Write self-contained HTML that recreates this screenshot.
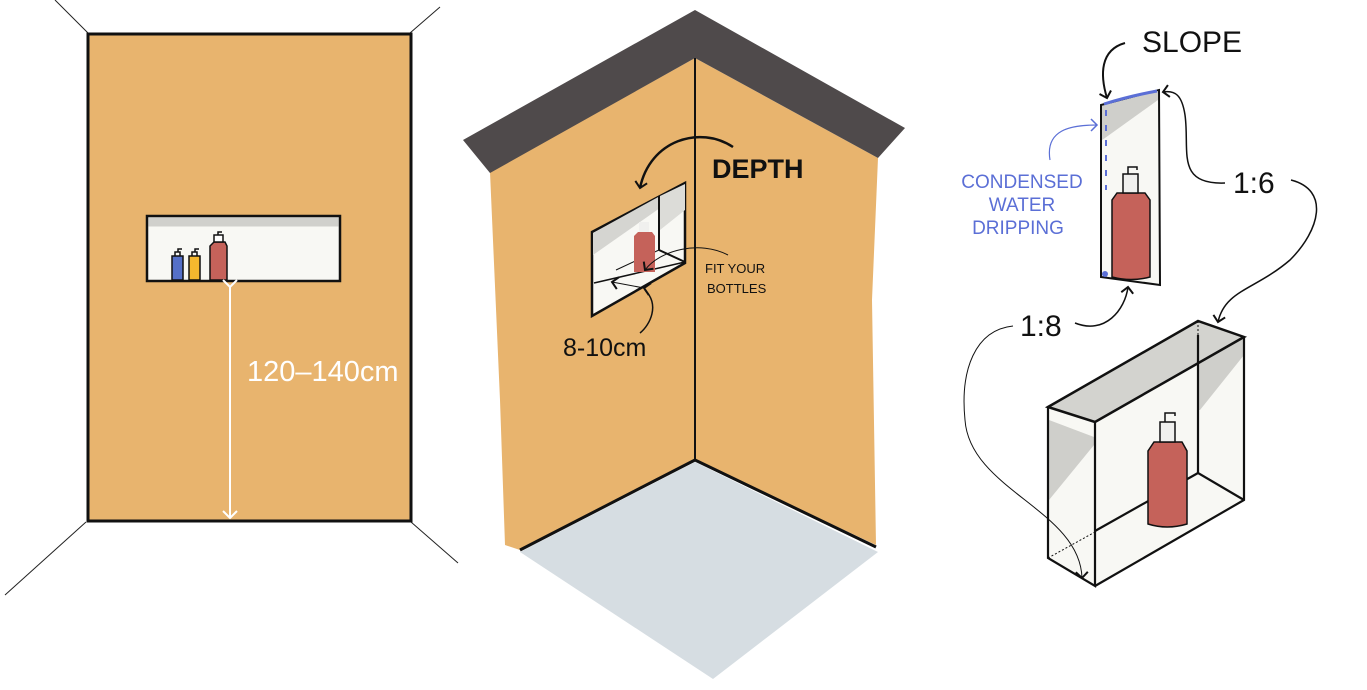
<!DOCTYPE html>
<html><head><meta charset="utf-8"><style>
html,body{margin:0;padding:0;background:#fff;}
svg{display:block;}
text{font-family:"Liberation Sans",sans-serif;}
</style></head><body>
<svg width="1367" height="690" viewBox="0 0 1367 690" xmlns="http://www.w3.org/2000/svg">
<defs>
<marker id="ah" markerWidth="14" markerHeight="14" refX="7" refY="7" orient="auto" markerUnits="userSpaceOnUse">
<path d="M1,1 L7,7 L1,13" fill="none" stroke="#111" stroke-width="2"/></marker>
<marker id="ahb" markerWidth="14" markerHeight="14" refX="7" refY="7" orient="auto" markerUnits="userSpaceOnUse">
<path d="M1,1 L7,7 L1,13" fill="none" stroke="#5b6fd6" stroke-width="1.5"/></marker>
<marker id="ahw" markerWidth="16" markerHeight="16" refX="8" refY="8" orient="auto" markerUnits="userSpaceOnUse">
<path d="M1,1 L8,8 L1,15" fill="none" stroke="#fff" stroke-width="2"/></marker>
</defs>

<!-- LEFT PANEL -->
<g stroke="#222" stroke-width="1">
<line x1="55" y1="0" x2="88" y2="33"/>
<line x1="440" y1="7" x2="410" y2="33"/>
<line x1="86" y1="522" x2="5" y2="595"/>
<line x1="411" y1="522" x2="458" y2="563"/>
</g>
<rect x="88" y="34" width="323" height="487" fill="#e8b46e" stroke="#111" stroke-width="3"/>
<rect x="147" y="216" width="193" height="65" fill="#f8f8f4" stroke="#111" stroke-width="2.5"/>
<rect x="148.5" y="217.5" width="190" height="9" fill="#d0d0cc"/>
<g stroke="#111" stroke-width="1.5">
<rect x="172" y="256" width="11" height="24" fill="#5570c8"/>
<rect x="189" y="256" width="11" height="24" fill="#f5b82e"/>
<path d="M210 280 L210 246 L214 242 L225 242 L227 246 L227 280 Z" fill="#c5625a"/>
<rect x="214" y="235" width="9" height="7" fill="#fff"/>
<path d="M175 256 v-4 h5 v4 M178 252 v-3 h4 M192 256 v-4 h5 v4 M195 252 v-3 h4 M218 235 v-3 h4" fill="none"/>
</g>
<line x1="230" y1="287" x2="230" y2="518" stroke="#fff" stroke-width="2" marker-start="url(#ahw)" marker-end="url(#ahw)"/>
<text x="247" y="381" font-size="29" fill="#fff">120–140cm</text>

<!-- MIDDLE PANEL -->
<polygon points="520,552 695,462 878,552 713,679" fill="#d6dde2"/>
<polygon points="490,172 695,58 695,460 520,550 505,545 500,400" fill="#e8b46e"/>
<polygon points="695,58 878,158 872,300 876,545 695,460" fill="#e8b46e"/>
<polygon points="463,140 695,10 905,128 878,158 695,58 490,173" fill="#4f4a4b"/>
<line x1="695" y1="58" x2="695" y2="460" stroke="#111" stroke-width="2"/>
<line x1="520" y1="550" x2="695" y2="460" stroke="#111" stroke-width="3"/>
<line x1="695" y1="460" x2="876" y2="547" stroke="#111" stroke-width="3"/>
<!-- niche -->
<polygon points="592,232 685,183 685,263 592,316" fill="#f8f8f4" stroke="#111" stroke-width="2.5"/>
<polygon points="593,233 660,196 660,208 593,255" fill="#d5d5d1"/>
<polygon points="660,196 685,184 685,210 660,230" fill="#dcdcd8"/>
<line x1="659" y1="196" x2="659" y2="250" stroke="#111" stroke-width="2"/>
<line x1="659" y1="250" x2="685" y2="262" stroke="#111" stroke-width="2"/>
<line x1="594" y1="283" x2="685" y2="262" stroke="#111" stroke-width="1.5"/>
<line x1="616" y1="270" x2="659" y2="250" stroke="#111" stroke-width="1"/>
<path d="M634 272 L634 236 L638 232 L652 232 L655 236 L655 272 Z" fill="#c5625a"/>
<rect x="639" y="222" width="10" height="10" fill="#f0f0ee"/>
<path d="M733 147 C700 125 650 140 640 188" fill="none" stroke="#111" stroke-width="2.5" marker-end="url(#ah)"/>
<text x="712" y="178" font-size="27" font-weight="bold" fill="#111">DEPTH</text>
<path d="M728 255 C700 240 660 250 645 270" fill="none" stroke="#111" stroke-width="1" marker-end="url(#ah)"/>
<text x="705" y="273" font-size="13" fill="#111">FIT YOUR</text>
<text x="707" y="293" font-size="13" fill="#111">BOTTLES</text>
<path d="M644 288 L612 282" stroke="#111" stroke-width="1" marker-end="url(#ah)" marker-start="url(#ah)"/>
<path d="M645 290 C660 305 650 325 640 333" fill="none" stroke="#111" stroke-width="1.5"/>
<text x="563" y="356" font-size="25" fill="#111">8-10cm</text>

<!-- RIGHT PANEL -->
<text x="1142" y="52" font-size="30" fill="#111">SLOPE</text>
<path d="M1125 43 C1100 50 1100 75 1107 98" fill="none" stroke="#111" stroke-width="2" marker-end="url(#ah)"/>
<polygon points="1101,105 1159,90 1160,285 1101,277" fill="#f8f8f4" stroke="#111" stroke-width="2"/>
<polygon points="1102,106 1158,91 1158,100 1105,138 1102,140" fill="#cfcfcb"/>
<path d="M1104 104 Q1130 96 1157 91" stroke="#5b6fd6" stroke-width="3" fill="none"/>
<path d="M1106 110 v80" stroke="#5b6fd6" stroke-width="2" stroke-dasharray="6 9" fill="none"/>
<circle cx="1105" cy="274" r="3" fill="#5b6fd6"/>
<path d="M1112 277 L1112 200 L1117 193 L1145 193 L1150 200 L1150 277 Q1131 282 1112 277 Z" fill="#c5625a" stroke="#111" stroke-width="1.5"/>
<rect x="1123" y="174" width="15" height="19" fill="#f0f0ee" stroke="#111" stroke-width="1.5"/>
<path d="M1128 174 v-7 h9 v3" fill="none" stroke="#111" stroke-width="1.5"/>
<path d="M1050 160 C1045 130 1070 125 1097 125" fill="none" stroke="#5b6fd6" stroke-width="1.2" marker-end="url(#ahb)"/>
<text x="1022" y="188" font-size="19" fill="#5b6fd6" text-anchor="middle">CONDENSED</text>
<text x="1022" y="211" font-size="19" fill="#5b6fd6" text-anchor="middle">WATER</text>
<text x="1018" y="234" font-size="19" fill="#5b6fd6" text-anchor="middle">DRIPPING</text>
<text x="1233" y="193" font-size="30" fill="#111">1:6</text>
<path d="M1225 183 C1175 185 1190 150 1185 115 C1182 95 1175 90 1163 92" fill="none" stroke="#111" stroke-width="1.5" marker-end="url(#ah)"/>
<text x="1020" y="336" font-size="30" fill="#111">1:8</text>
<path d="M1075 323 C1105 335 1125 310 1128 287" fill="none" stroke="#111" stroke-width="1.5" marker-end="url(#ah)"/>
<!-- box -->
<polygon points="1048,407 1095,422 1095,586 1048,558" fill="#f8f8f4"/>
<polygon points="1049,420 1094,437 1094,445 1049,500" fill="#cfcfcb"/>
<polygon points="1095,422 1244,337 1244,500 1095,586" fill="#f8f8f4"/>
<polygon points="1198,321 1244,337 1244,355 1200,410 1198,410" fill="#cfcfcb"/>
<polygon points="1198,322 1244,337 1198,362" fill="#b3b3b0"/>
<polygon points="1048,407 1198,321 1244,337 1095,422" fill="#d3d3cf" stroke="#111" stroke-width="2.5"/>
<g stroke="#111" stroke-width="2.2" fill="none">
<path d="M1048 407 V558 L1095 586 V422"/>
<path d="M1244 337 V500 L1095 586"/>
<path d="M1198 335 V473 L1244 500"/>
<path d="M1095 531 L1198 473"/>
</g>
<path d="M1048 558 L1095 532" stroke="#111" stroke-width="1" stroke-dasharray="2 2"/>
<path d="M1198 321 V335" stroke="#111" stroke-width="1" stroke-dasharray="2 2"/>
<path d="M1148 524 L1148 451 L1154 442 L1182 442 L1187 451 L1187 524 Q1167 530 1148 524 Z" fill="#c5625a" stroke="#111" stroke-width="1.5"/>
<rect x="1160" y="422" width="15" height="20" fill="#f0f0ee" stroke="#111" stroke-width="1.5"/>
<path d="M1165 422 v-9 h10 v3" fill="none" stroke="#111" stroke-width="1.5"/>
<!-- arrows over box -->
<path d="M1291 180 C1330 190 1320 230 1290 260 C1255 290 1225 290 1218 322" fill="none" stroke="#111" stroke-width="1.5" marker-end="url(#ah)"/>
<path d="M1013 326 C975 330 960 370 965 420 C970 490 1080 510 1082 578" fill="none" stroke="#111" stroke-width="1" marker-end="url(#ah)"/>
</svg>
</body></html>
